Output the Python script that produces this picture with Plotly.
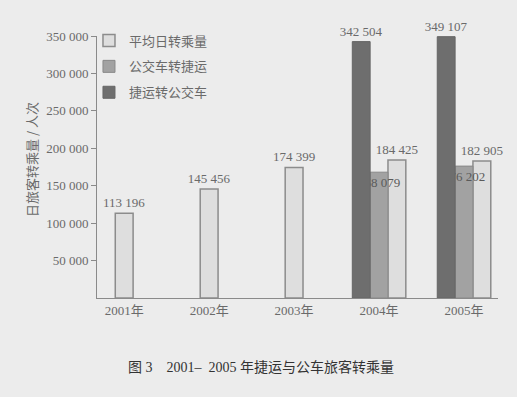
import plotly.graph_objects as go

years = ["2001年", "2002年", "2003年", "2004年", "2005年"]
avg_transfer = [113196, 145456, 174399, 184425, 182905]      # 平均日转乘量
bus_to_metro = [None, None, None, 168079, 176202]            # 公交车转捷运
metro_to_bus = [None, None, None, 342504, 349107]            # 捷运转公交车
tick_vals = [50000, 100000, 150000, 200000, 250000, 300000, 350000]

def fmt(v):
    return "" if v is None else f"{v:,}".replace(",", " ")

SERIF = "Liberation Serif, Times New Roman, Noto Sans CJK SC, serif"
W = 0.21
light_offsets = [-W / 2 if m is None else W / 2 for m in metro_to_bus]

fig = go.Figure()
fig.add_trace(go.Bar(
    name="平均日转乘量", x=years, y=avg_transfer,
    text=[fmt(v) for v in avg_transfer], textposition="outside",
    constraintext="none", textangle=0,
    width=W, offset=light_offsets,
    marker=dict(color="#dedede", line=dict(color="#8c8c8c", width=1.5)),
    textfont=dict(family=SERIF, size=13, color="#6a6a6a"),
    cliponaxis=False, legendgroup="a",
))
fig.add_trace(go.Bar(
    name="公交车转捷运", x=years, y=bus_to_metro,
    text=[fmt(v) for v in bus_to_metro], textposition="inside",
    insidetextanchor="end", constraintext="none", textangle=0,
    width=W, offset=-W / 2,
    marker=dict(color="#a2a2a2", line=dict(color="#888888", width=1)),
    insidetextfont=dict(family=SERIF, size=13, color="#5a5a5a"),
    legendgroup="b",
))
fig.add_trace(go.Bar(
    name="捷运转公交车", x=years, y=metro_to_bus,
    text=[fmt(v) for v in metro_to_bus], textposition="outside",
    constraintext="none", textangle=0,
    width=W, offset=-1.5 * W,
    marker=dict(color="#6e6e6e", line=dict(color="#666666", width=1)),
    textfont=dict(family=SERIF, size=13, color="#6a6a6a"),
    cliponaxis=False, legendgroup="c",
))

fig.update_layout(
    width=517, height=397,
    margin=dict(l=97, r=19, t=36, b=99),
    paper_bgcolor="#ececec", plot_bgcolor="#ececec",
    barmode="overlay",
    showlegend=True,
    legend=dict(x=-0.02, y=1.04, xanchor="left", yanchor="top",
                bgcolor="rgba(0,0,0,0)", tracegroupgap=6, itemwidth=30,
                font=dict(family="Noto Sans CJK SC", size=13, color="#6a6a6a")),
    font=dict(family=SERIF, size=13, color="#6a6a6a"),
    xaxis=dict(range=[-0.32, 4.40], showline=True, linecolor="#8a8a8a",
               linewidth=1, ticks="", showgrid=False, zeroline=False,
               tickfont=dict(family=SERIF, size=13, color="#6a6a6a")),
    yaxis=dict(range=[0, 350000], tickvals=tick_vals,
               ticktext=[fmt(v) for v in tick_vals],
               showline=True, linecolor="#8a8a8a", linewidth=1,
               ticks="outside", ticklen=5, tickcolor="#8a8a8a",
               showgrid=False, zeroline=False,
               tickfont=dict(family=SERIF, size=13, color="#6a6a6a")),
    annotations=[
        dict(text="日旅客转乘量 / 人次", textangle=-90, x=-0.165, y=0.53,
             xanchor="center", yanchor="middle",
             xref="paper", yref="paper", showarrow=False,
             font=dict(family="Noto Sans CJK SC", size=13, color="#6a6a6a")),
        dict(text="图 3    2001–  2005 年捷运与公车旅客转乘量", x=0.41, y=-0.30,
             xref="paper", yref="paper", showarrow=False,
             font=dict(family="Liberation Serif, Noto Sans CJK SC", size=14, color="#333333")),
    ],
)

fig.write_html(
    "out.html",
    config={"displayModeBar": False},
    post_script="document.body.style.margin='0';document.body.style.background='#ececec';",
)
